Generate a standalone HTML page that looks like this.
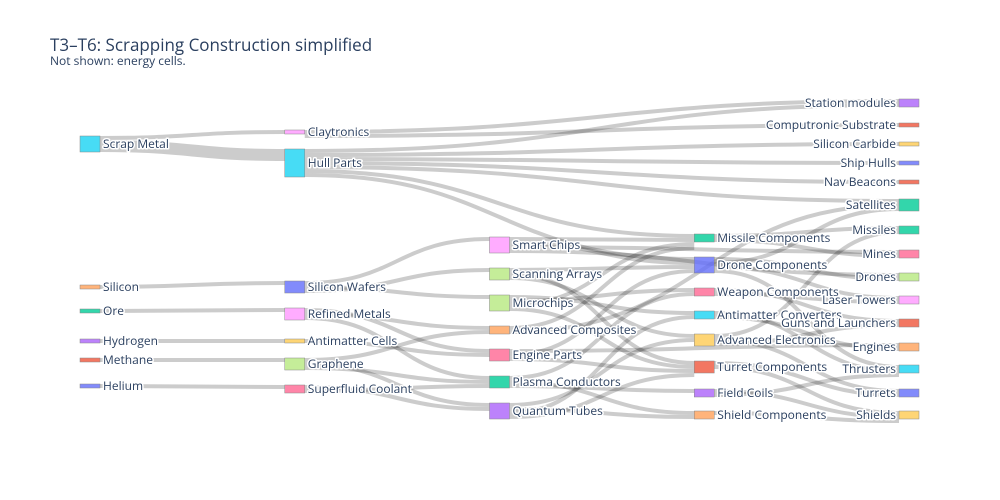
<!DOCTYPE html>
<html><head><meta charset="utf-8">
<style>
html,body{margin:0;padding:0;background:#fff;}
svg{display:block;font-family:"Open Sans","Liberation Sans",sans-serif;}
.lbl{font-size:12px;fill:#2a3f5f;paint-order:stroke;stroke:#fff;stroke-width:3px;stroke-linejoin:round;}
</style></head>
<body>
<svg id="chart" width="1000" height="500">
<rect width="1000" height="500" fill="#fff"/>
<text x="50" y="51" font-size="17" fill="#2a3f5f">T3–T6: Scrapping Construction simplified</text>
<text x="50" y="65" font-size="12" fill="#2a3f5f">Not shown: energy cells.</text>
<g id="links"></g><g id="nodes"></g>
</svg>
<script>
const nodeLabels=["Scrap Metal","Silicon","Ore","Hydrogen","Methane","Helium",
"Claytronics","Hull Parts","Silicon Wafers","Refined Metals","Antimatter Cells","Graphene","Superfluid Coolant",
"Smart Chips","Scanning Arrays","Microchips","Advanced Composites","Engine Parts","Plasma Conductors","Quantum Tubes",
"Missile Components","Drone Components","Weapon Components","Antimatter Converters","Advanced Electronics","Turret Components","Field Coils","Shield Components",
"Station modules","Computronic Substrate","Silicon Carbide","Ship Hulls","Nav Beacons","Satellites","Missiles","Mines","Drones","Laser Towers","Guns and Launchers","Engines","Thrusters","Turrets","Shields"];
const nodeColumn=[0,0,0,0,0,0, 1,1,1,1,1,1,1, 2,2,2,2,2,2,2, 3,3,3,3,3,3,3,3, 4,4,4,4,4,4,4,4,4,4,4,4,4,4,4];
const nodeCenter=[144,287,311,341,360,386, 132,163,287,314,341,364,389, 245,274,303,330,355,382,411, 238,265,292,315,340,367,393,415, 103,125,144,163,182,205,230,254,277,300,323,347,369,393,415];
const nodeSize=[4,1,1,1,1,1, 1,7,3,3,1,3,2, 4,3,4,2,3,3,4, 2,4,2,2,3,3,2,2, 2,1,1,1,1,3,2,2,2,2,2,2,2,2,2];
const nodeColor=["#19d3f3","#FFA15A","#00cc96","#ab63fa","#EF553B","#636efa",
"#FF97FF","#19d3f3","#636efa","#FF97FF","#FECB52","#B6E880","#FF6692",
"#FF97FF","#B6E880","#B6E880","#FFA15A","#FF6692","#00cc96","#ab63fa",
"#00cc96","#636efa","#FF6692","#19d3f3","#FECB52","#EF553B","#ab63fa","#FFA15A",
"#ab63fa","#EF553B","#FECB52","#636efa","#EF553B","#00cc96","#00cc96","#FF6692","#B6E880","#FF97FF","#EF553B","#FFA15A","#19d3f3","#636efa","#FECB52"];
const linkSource=[0,0,6,6,7,7,7,7,7,7,7,
1,2,3,4,5,
8,8,8,9,9,9,10,11,11,11,12,12,
13,13,13,13,14,14,14,15,15,15,15,16,16,17,17,17,18,18,18,19,19,19,19,
20,20,21,21,21,21,22,22,23,23,24,24,24,25,25,26,26,27];
const linkTarget=[6,7,28,29,28,30,31,32,33,20,21,
8,9,10,11,12,
13,15,14,17,16,18,17,16,19,18,19,18,
20,21,35,36,21,25,24,23,22,20,25,20,33,39,21,25,22,27,26,24,27,23,25,
34,35,36,33,37,40,38,37,40,39,34,41,38,41,42,42,40,42];
const linkValue=[1,3,1,1,1,1,1,1,1,1,1,
1,1,1,1,1,
1,1,1,1,1,1,1,1,1,1,1,1,
1,1,1,1,1,1,1,1,1,1,1,1,1,1,1,1,1,1,1,1,1,1,1,
1,1,1,1,1,1,1,1,1,1,1,1,1,1,1,1,1,1];
const UNIT=4, NODE_W=20;
const colX=c=>80+c*204.75;
const nodeTop=i=>nodeCenter[i]-nodeSize[i]*UNIT/2;
const NS="http://www.w3.org/2000/svg";
const lg=document.getElementById('links'), ng=document.getElementById('nodes');
const outOff=nodeLabels.map(()=>0), inOff=nodeLabels.map(()=>0);
for(let k=0;k<linkSource.length;k++){
  const s=linkSource[k], t=linkTarget[k], w=linkValue[k]*UNIT;
  const y0=nodeTop(s)+outOff[s]+w/2, y1=nodeTop(t)+inOff[t]+w/2;
  outOff[s]+=w; inOff[t]+=w;
  const x0=colX(nodeColumn[s])+NODE_W, x1=colX(nodeColumn[t]), xm=(x0+x1)/2;
  const p=document.createElementNS(NS,'path');
  p.setAttribute('d',`M${x0},${y0}C${xm},${y0} ${xm},${y1} ${x1},${y1}`);
  p.setAttribute('fill','none');p.setAttribute('stroke','rgba(0,0,0,0.2)');p.setAttribute('stroke-width',w);
  
  
  lg.appendChild(p);
}
for(let i=0;i<nodeLabels.length;i++){
  const x=colX(nodeColumn[i]), h=nodeSize[i]*UNIT, y=nodeTop(i);
  const r=document.createElementNS(NS,'rect');
  r.setAttribute('x',x);r.setAttribute('y',y);r.setAttribute('width',NODE_W);r.setAttribute('height',h);
  r.setAttribute('fill',nodeColor[i]);r.setAttribute('fill-opacity','0.8');r.setAttribute('stroke','#888');r.setAttribute('stroke-width','0.5');
  
  
  ng.appendChild(r);
  const tx=document.createElementNS(NS,'text');
  const last=nodeColumn[i]===4;
  tx.setAttribute('x',last?x-3:x+NODE_W+3);tx.setAttribute('y',nodeCenter[i]+4);
  tx.setAttribute('text-anchor',last?'end':'start');tx.setAttribute('class','lbl');
  tx.textContent=nodeLabels[i];
  
  
  ng.appendChild(tx);
}
</script>
</body></html>
